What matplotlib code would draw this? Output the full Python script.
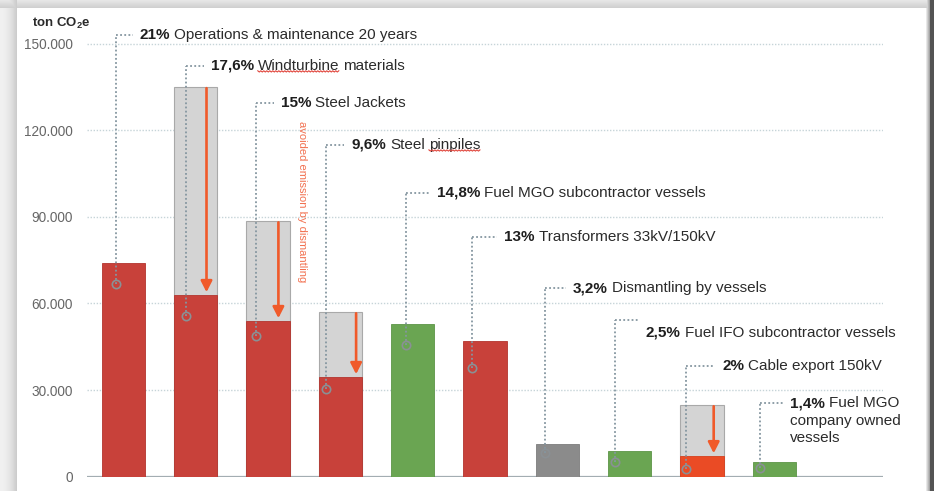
import numpy as np
import matplotlib
matplotlib.use('Agg')
import matplotlib.pyplot as plt

plt.rcParams['font.family'] = ['Liberation Sans', 'DejaVu Sans']
plt.rcParams['mathtext.fontset'] = 'custom'
plt.rcParams['mathtext.rm'] = 'Liberation Sans'
plt.rcParams['mathtext.bf'] = 'Liberation Sans:bold'

# emission share per item and tonnes CO2e (net after dismantling, gross before)
shares = ['21%', '17,6%', '15%', '9,6%', '14,8%', '13%', '3,2%', '2,5%', '2%', '1,4%']
items = ['Operations & maintenance 20 years', 'Windturbine materials', 'Steel Jackets',
         'Steel pinpiles', 'Fuel MGO subcontractor vessels', 'Transformers 33kV/150kV',
         'Dismantling by vessels', 'Fuel IFO subcontractor vessels', 'Cable export 150kV',
         'Fuel MGO company owned vessels']
net = [74000, 63000, 54000, 34600, 53000, 47000, 11300, 9000, 7200, 5200]
gross = [np.nan, 135000, 88500, 57000, np.nan, np.nan, np.nan, np.nan, 24800, np.nan]
kinds = ['red', 'red', 'red', 'red', 'green', 'red', 'gray', 'green', 'orange', 'green']

palette = {'red': '#c8413a', 'green': '#6aa552', 'gray': '#8b8b8b', 'orange': '#ea4b25'}
edges = {'red': '#b3342e', 'green': '#5c9546', 'gray': '#7d7d7d', 'orange': '#d63f1c'}

# layout of the callouts (leader anchor, leader top, text position)
anchor_y = [66800, 55700, 48900, 30400, 45600, 37800, 8200, 5200, 2600, 3100]
label_y = [153000, 142300, 129500, 114900, 98400, 82900, 65300, 54300, 38350, 25430]
text_y = [153000, 142300, 129500, 114900, 98400, 82900, 65300, 49800, 38350, 25430]
lead_dx = [-7.8, -10.3, -12.3, -14.3, -6.8, -12.7, -12.5, -15, -15.8, -14.5]
text_dx = [24, 25, 25, 25, 31, 32, 28, 31, 36, 30]
arrow_dx = {1: 10.7, 2: 10.3, 3: 15.7, 8: 11.8}

PX = 72.3          # pixels per bar slot
W, H = 934, 491

fig = plt.figure(figsize=(W / 100, H / 100), dpi=100)

# card with drop shadow behind the chart
bg = fig.add_axes([0, 0, 1, 1], zorder=-10)
img = np.ones((H, W))
for r in range(8):
    img[r, :] = np.minimum(img[r, :], 0.90 - 0.10 * r / 8)
for c in range(17):
    img[:, c] = np.minimum(img[:, c], 0.94 - 0.16 * (c / 17) ** 2)
for c in range(925, 930):
    img[:, c] = np.minimum(img[:, c], 1 - 0.45 * (c - 925) / 5)
img[:, 930:] = 0.33
bg.imshow(img, cmap='gray', vmin=0, vmax=1, aspect='auto', interpolation='bilinear')
bg.axis('off')

ax = fig.add_axes([87 / W, (H - 476.7) / H, 796 / W, (476.7 - 14.8) / H])
ax.set_facecolor('none')
x = np.arange(len(net))

ax.set_xlim(-0.505, 10.505)
ax.set_ylim(0, 160000)
ax.set_yticks([0, 30000, 60000, 90000, 120000, 150000])
ax.set_yticklabels(['0', '30.000', '60.000', '90.000', '120.000', '150.000'])
ax.tick_params(axis='y', length=0, pad=10, labelsize=9.8, labelcolor='#666666')
ax.set_xticks([])
for s in ax.spines.values():
    s.set_visible(False)
ax.yaxis.grid(True, linestyle=(0, (1, 1.2)), color='#c6d4d8', linewidth=1)
ax.set_axisbelow(True)
ax.axhline(0, color='#a3adb2', lw=1.6, zorder=1)

ax.bar(x, gross, width=0.6, color='#d4d4d4', edgecolor='#a9a9a9', linewidth=0.8, zorder=2)
ax.bar(x, net, width=0.6, color=[palette[k] for k in kinds],
       edgecolor=[edges[k] for k in kinds], linewidth=0.6, zorder=3)

# arrows for emission avoided by dismantling
for i, dx in arrow_dx.items():
    ax.annotate('', xy=(i + dx / PX, net[i] + 900), xytext=(i + dx / PX, gross[i] - 400),
                arrowprops=dict(arrowstyle='-|>,head_length=0.55,head_width=0.28',
                                color='#f05a2a', lw=1.9, shrinkA=0, shrinkB=0,
                                mutation_scale=12), zorder=4)
ax.text(1 + 106 / PX, 95270, 'avoided emission by dismantling', rotation=-90,
        color='#f2704f', fontsize=8, ha='center', va='center', zorder=4)

ax.text(-55 / PX - 0.505, 157000, r'ton CO$_\mathbf{2}$e', fontsize=9.5, fontweight='bold',
        color='#2a2a2a', va='center', ha='left', clip_on=False)

dots = dict(linestyle=(0, (1, 1.3)), color='#8596a0', lw=1.3, zorder=5, clip_on=False)
underline = []
for i in range(len(net)):
    lx = x[i] + lead_dx[i] / PX
    ax.plot([lx, lx], [anchor_y[i], label_y[i]], **dots)
    ax.plot([lx, lx + (text_dx[i] - 7) / PX], [label_y[i], label_y[i]], **dots)
    ax.plot(lx, anchor_y[i], 'o', mfc='none', mec='#8a9094', ms=6, mew=1.2, zorder=6)

    tx = lx + text_dx[i] / PX
    t = ax.text(tx, text_y[i], shares[i], fontsize=11, fontweight='bold', color='#1e1e1e',
                va='center', ha='left', zorder=6)
    words = items[i]
    if i == 9:
        words = 'Fuel MGO'
    # split so the flagged words can be underlined
    if i == 1:
        parts = [('Windturbine', True), ('materials', False)]
    elif i == 3:
        parts = [('Steel', False), ('pinpiles', True)]
    else:
        parts = [(words, False)]
    prev = t
    for txt, flag in parts:
        prev = ax.annotate(txt, xy=(1, 0), xycoords=prev, xytext=(3, 0),
                           textcoords='offset points', fontsize=11, color='#2b2b2b',
                           va='bottom', ha='left', zorder=6)
        if flag:
            underline.append(prev)
    if i == 9:
        ax.annotate('company owned\nvessels', xy=(0, 0), xycoords=t, xytext=(0, -2.5),
                    textcoords='offset points', fontsize=11, color='#2b2b2b',
                    va='top', ha='left', linespacing=1.3, zorder=6)

# spell-check squiggles under two words
fig.canvas.draw()
renderer = fig.canvas.get_renderer()
for t in underline:
    bb = t.get_window_extent(renderer)
    xs = np.arange(bb.x0, bb.x1, 1.5)
    ys = bb.y0 + 1.5 + 0.6 * np.where(np.arange(len(xs)) % 2 == 0, 1, -1)
    fig.add_artist(plt.Line2D(xs / W, ys / H, color='#e0453c', lw=0.8, transform=fig.transFigure))

fig.savefig('out.png', dpi=100)
